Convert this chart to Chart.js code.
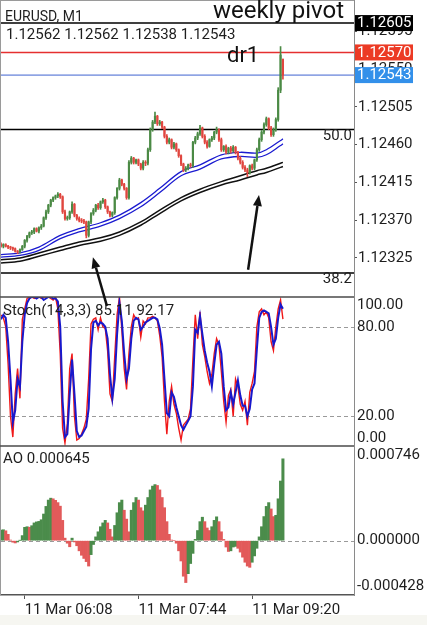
<!DOCTYPE html>
<html>
<head>
<meta charset="utf-8">
<title>EURUSD, M1</title>
<script src="https://cdn.jsdelivr.net/npm/chart.js@4.4.1/dist/chart.umd.min.js"></script>
<style>
html, body { margin: 0; padding: 0; background: #ffffff; }
#chart_td { width: 427px; height: 625px; }
</style>
</head>
<body>
<div id="chart_td"><canvas id="mychart" width="427" height="625"></canvas></div>
<script>
//. EURUSD M1 screenshot, read back as 2-minute slots (05:48 .. 09:46), plus empty slots up to the right axis
var SLOT_COUNT = 150;
var FIRST_MINUTE = 5 * 60 + 48;
var SLOT_MINUTES = 2;
var timeTickSlots = [ 10, 58, 106 ];

//. candles
var opens = [
  1.12341,1.12339,1.12341,1.12339,1.12338,1.12337,1.12336,1.12333,1.12332,1.12335,
  1.12339,1.12346,1.12351,1.12355,1.12356,1.12360,1.12357,1.12361,1.12363,1.12373,
  1.12380,1.12388,1.12394,1.12397,1.12399,1.12401,1.12398,1.12380,1.12372,1.12373,
  1.12380,1.12389,1.12376,1.12372,1.12370,1.12369,1.12368,1.12352,1.12368,1.12378,
  1.12382,1.12388,1.12385,1.12392,1.12394,1.12386,1.12380,1.12376,1.12379,1.12397,
  1.12408,1.12418,1.12413,1.12408,1.12397,1.12439,1.12444,1.12439,1.12442,1.12437,
  1.12432,1.12439,1.12438,1.12454,1.12478,1.12487,1.12494,1.12485,1.12487,1.12481,
  1.12470,1.12463,1.12466,1.12457,1.12461,1.12454,1.12447,1.12437,1.12430,1.12432,
  1.12436,1.12435,1.12463,1.12468,1.12473,1.12480,1.12470,1.12463,1.12458,1.12466,
  1.12468,1.12475,1.12478,1.12466,1.12454,1.12458,1.12451,1.12456,1.12453,1.12457,
  1.12451,1.12444,1.12439,1.12433,1.12430,1.12427,1.12435,1.12432,1.12442,1.12454,
  1.12466,1.12475,1.12484,1.12491,1.12480,1.12472,1.12478,1.12490,1.12525,1.12562
];
var highs = [
  1.12343,1.12342,1.12342,1.12340,1.12339,1.12338,1.12337,1.12334,1.12336,1.12340,
  1.12347,1.12352,1.12356,1.12358,1.12361,1.12361,1.12362,1.12365,1.12374,1.12382,
  1.12389,1.12395,1.12398,1.12400,1.12403,1.12402,1.12399,1.12382,1.12375,1.12381,
  1.12392,1.12390,1.12377,1.12374,1.12372,1.12371,1.12369,1.12369,1.12379,1.12384,
  1.12389,1.12390,1.12393,1.12396,1.12395,1.12387,1.12381,1.12380,1.12398,1.12409,
  1.12420,1.12419,1.12414,1.12409,1.12441,1.12446,1.12445,1.12443,1.12443,1.12438,
  1.12441,1.12441,1.12456,1.12480,1.12489,1.12499,1.12495,1.12489,1.12488,1.12482,
  1.12472,1.12468,1.12467,1.12463,1.12462,1.12455,1.12448,1.12438,1.12434,1.12437,
  1.12438,1.12464,1.12470,1.12475,1.12483,1.12481,1.12472,1.12465,1.12467,1.12470,
  1.12476,1.12481,1.12479,1.12468,1.12459,1.12460,1.12457,1.12458,1.12459,1.12458,
  1.12452,1.12446,1.12441,1.12435,1.12432,1.12436,1.12437,1.12443,1.12456,1.12468,
  1.12477,1.12486,1.12493,1.12492,1.12482,1.12480,1.12492,1.12528,1.12577,1.12562
];
var lows = [
  1.12338,1.12337,1.12338,1.12336,1.12335,1.12334,1.12332,1.12330,1.12331,1.12334,
  1.12337,1.12344,1.12349,1.12353,1.12354,1.12356,1.12355,1.12359,1.12362,1.12371,
  1.12378,1.12386,1.12392,1.12395,1.12397,1.12396,1.12378,1.12370,1.12370,1.12371,
  1.12378,1.12374,1.12370,1.12368,1.12367,1.12366,1.12349,1.12350,1.12366,1.12376,
  1.12380,1.12383,1.12383,1.12390,1.12384,1.12378,1.12374,1.12374,1.12377,1.12395,
  1.12406,1.12411,1.12406,1.12395,1.12395,1.12437,1.12437,1.12437,1.12435,1.12430,
  1.12430,1.12435,1.12436,1.12452,1.12476,1.12485,1.12483,1.12483,1.12479,1.12468,
  1.12461,1.12461,1.12455,1.12455,1.12452,1.12445,1.12435,1.12428,1.12428,1.12430,
  1.12433,1.12433,1.12461,1.12466,1.12471,1.12468,1.12461,1.12456,1.12457,1.12464,
  1.12466,1.12473,1.12464,1.12452,1.12452,1.12449,1.12449,1.12450,1.12451,1.12449,
  1.12442,1.12437,1.12431,1.12428,1.12422,1.12425,1.12430,1.12430,1.12440,1.12452,
  1.12464,1.12473,1.12482,1.12478,1.12470,1.12470,1.12476,1.12488,1.12522,1.12538
];
var closes = [
  1.12339,1.12341,1.12339,1.12338,1.12337,1.12336,1.12333,1.12332,1.12335,1.12339,
  1.12346,1.12351,1.12355,1.12356,1.12360,1.12357,1.12361,1.12363,1.12373,1.12380,
  1.12388,1.12394,1.12397,1.12399,1.12401,1.12398,1.12380,1.12372,1.12373,1.12380,
  1.12389,1.12376,1.12372,1.12370,1.12369,1.12368,1.12352,1.12368,1.12378,1.12382,
  1.12388,1.12385,1.12392,1.12394,1.12386,1.12380,1.12376,1.12379,1.12397,1.12408,
  1.12418,1.12413,1.12408,1.12397,1.12439,1.12444,1.12439,1.12442,1.12437,1.12432,
  1.12439,1.12438,1.12454,1.12478,1.12487,1.12494,1.12485,1.12487,1.12481,1.12470,
  1.12463,1.12466,1.12457,1.12461,1.12454,1.12447,1.12437,1.12430,1.12432,1.12436,
  1.12435,1.12463,1.12468,1.12473,1.12480,1.12470,1.12463,1.12458,1.12466,1.12468,
  1.12475,1.12478,1.12466,1.12454,1.12458,1.12451,1.12456,1.12453,1.12457,1.12451,
  1.12444,1.12439,1.12433,1.12430,1.12427,1.12435,1.12432,1.12442,1.12454,1.12466,
  1.12475,1.12484,1.12491,1.12480,1.12472,1.12478,1.12490,1.12525,1.12567,1.12543
];

//. moving averages, read at a few slots only
var maSlots      = [ 0, 8, 16, 25, 33, 42, 50, 59, 67, 76, 84, 93, 101, 108, 112, 118, 119 ];
var maBlueUpper  = [ 1.12329,1.12331,1.12338,1.12352,1.12360,1.12367,1.12376,1.12391,1.12408,1.12428,1.12436,1.12448,1.12451,1.12450,1.12454,1.12465,1.12467 ];
var maBlueLower  = [ 1.12326,1.12328,1.12334,1.12348,1.12356,1.12363,1.12372,1.12386,1.12403,1.12423,1.12431,1.12443,1.12446,1.12445,1.12448,1.12459,1.12461 ];
var maBlackUpper = [ 1.12323,1.12325,1.12331,1.12338,1.12344,1.12349,1.12356,1.12368,1.12382,1.12397,1.12407,1.12416,1.12423,1.12429,1.12432,1.12438,1.12439 ];
var maBlackLower = [ 1.12319,1.12321,1.12327,1.12334,1.12340,1.12345,1.12352,1.12364,1.12378,1.12393,1.12403,1.12412,1.12418,1.12424,1.12427,1.12433,1.12434 ];

//. Stoch(14,3,3)
var stochMain = [
  88,86,80,55,20,6,35,52,32,85,
  92,99,100,100,99,100,100,99,100,100,
  100,99,98,100,92,62,12,2,15,52,
  62,20,4,5,8,12,18,45,82,85,
  86,78,86,80,79,64,35,30,60,88,
  100,78,52,38,62,80,88,85,86,73,
  84,82,86,86,87,86,84,74,60,30,
  8,30,40,28,22,12,4,14,16,18,
  25,58,88,72,90,68,60,50,42,48,
  62,72,68,50,30,16,34,38,20,45,
  40,28,24,30,14,36,42,50,80,90,
  92,88,90,86,70,64,80,92,98,85.11
];
var stochSignal = [
  85,88,86,70,45,16,24,45,40,70,
  88,96,99,100,100,99,100,100,98,99,
  100,100,99,99,97,80,30,6,8,35,
  58,35,10,6,7,10,13,25,65,83,
  84,81,83,82,80,72,48,32,45,75,
  96,84,62,45,52,72,84,86,85,78,
  80,83,84,85,86,86,85,79,68,45,
  22,20,36,33,26,20,14,11,14,17,
  20,40,78,76,87,75,64,56,50,40,
  55,68,70,62,40,24,26,36,28,36,
  44,34,27,27,20,25,38,42,65,86,
  90,91,90,89,80,68,72,86,95,92.17
];
var stochLevels = [ 80, 20 ];
var stochTicks = [ 100, 80, 20, 0 ];

//. Awesome Oscillator
var ao = [
  0.000084,0.000086,0.000078,0.000050,0.000005,-0.000012,-0.000018,-0.000010,0.000002,0.000040,
  0.000105,0.000110,0.000106,0.000118,0.000140,0.000148,0.000152,0.000165,0.000210,0.000270,
  0.000320,0.000335,0.000330,0.000318,0.000300,0.000272,0.000160,0.000020,-0.000020,-0.000048,
  0.000020,-0.000010,-0.000040,-0.000080,-0.000115,-0.000140,-0.000165,-0.000200,-0.000110,-0.000030,
  0.000030,0.000070,0.000110,0.000140,0.000160,0.000140,0.000090,0.000030,0.000120,0.000220,
  0.000300,0.000320,0.000240,0.000170,0.000070,0.000240,0.000300,0.000340,0.000320,0.000260,
  0.000235,0.000280,0.000340,0.000400,0.000430,0.000442,0.000435,0.000400,0.000340,0.000260,
  0.000150,0.000050,0.000005,0.000000,-0.000020,-0.000080,-0.000160,-0.000280,-0.000330,-0.000260,
  -0.000180,-0.000100,0.000010,0.000080,0.000150,0.000185,0.000150,0.000100,0.000080,0.000110,
  0.000160,0.000188,0.000150,0.000070,0.000010,-0.000050,-0.000085,-0.000080,-0.000050,-0.000045,
  -0.000060,-0.000090,-0.000130,-0.000170,-0.000200,-0.000210,-0.000170,-0.000120,-0.000060,0.000030,
  0.000110,0.000190,0.000270,0.000300,0.000250,0.000190,0.000200,0.000330,0.000470,0.000645
];
var aoTicks = [ 0.000746, 0.000000, -0.000428 ];

//. price axis, levels and tags
var priceMin = 1.122785;
var priceMax = 1.126325;
var priceTicks = [ 1.12325, 1.12370, 1.12415, 1.12460, 1.12505, 1.12550, 1.12595 ];
var levelValues = [ 1.12605, 1.12570, 1.12543, 1.12478, 1.12307 ];
var tagValues = [ 1.12605, 1.12570, 1.12543 ];

//. hand drawn arrows (slot, price)
var arrowTails = [ [ 44.7, 1.12268 ], [ 104.3, 1.12311 ] ];
var arrowTips  = [ [ 38.8, 1.12326 ], [ 108.9, 1.12400 ] ];

//. styles
var BULL = '#4b8a45';
var BEAR = '#e0463f';
var AO_UP = '#4b8c4b';
var AO_DOWN = '#e25a5a';
var levelColors = [ '#000000', '#e53030', '#3f63d0', '#000000', '#000000' ];
var levelWidths = [ 1.5, 1.5, 1, 1.5, 1.5 ];
var tagColors = [ '#000000', '#ec3a24', '#3390ea' ];
var FONT = 'Roboto';

Chart.defaults.font.family = FONT;

function pad2( n ){
  return ( n < 10 ? '0' : '' ) + n;
}

var labels = [];
for( var i = 0; i < SLOT_COUNT; i ++ ){
  var m = FIRST_MINUTE + i * SLOT_MINUTES;
  labels.push( '11 Mar ' + pad2( Math.floor( m / 60 ) ) + ':' + pad2( m % 60 ) );
}

var wickData = [], bodyData = [], candleColors = [];
for( var i = 0; i < closes.length; i ++ ){
  wickData.push( [ lows[i], highs[i] ] );
  bodyData.push( [ opens[i], closes[i] ] );
  candleColors.push( closes[i] >= opens[i] ? BULL : BEAR );
}

var aoColors = [];
for( var i = 0; i < ao.length; i ++ ){
  aoColors.push( ( i == 0 || ao[i] >= ao[i-1] ) ? AO_UP : AO_DOWN );
}

function sparse( values ){
  var r = [];
  for( var i = 0; i < closes.length; i ++ ){ r.push( null ); }
  maSlots.forEach( function( s, k ){ r[s] = values[k]; } );
  return r;
}

function maLine( values, color, width ){
  return {
    type: 'line', yAxisID: 'yP', data: sparse( values ),
    borderColor: color, borderWidth: width, pointRadius: 0,
    spanGaps: true, tension: 0.35, order: 5
  };
}

function noPad( s ){
  s.paddingTop = 0; s.paddingBottom = 0; s.paddingLeft = 0; s.paddingRight = 0;
}
function sideFit( s ){
  s.width = 73;
  noPad( s );
}

function drawArrow( c, x1, y1, x2, y2 ){
  var ang = Math.atan2( y2 - y1, x2 - x1 );
  var len = 11, half = 4.5;
  var bx = x2 - len * Math.cos( ang ), by = y2 - len * Math.sin( ang );
  c.beginPath();
  c.moveTo( x1, y1 );
  c.lineTo( bx, by );
  c.stroke();
  c.beginPath();
  c.moveTo( x2, y2 );
  c.lineTo( bx + half * Math.sin( ang ), by - half * Math.cos( ang ) );
  c.lineTo( bx - half * Math.sin( ang ), by + half * Math.cos( ang ) );
  c.closePath();
  c.fill();
}

var mtPlugin = {
  id: 'mt4look',
  beforeDraw: function( chart ){
    var c = chart.ctx;
    c.save();
    c.fillStyle = '#ffffff';
    c.fillRect( 0, 0, chart.width, chart.height );
    c.fillStyle = '#f6f6f1';
    c.fillRect( 0, chart.height - 10, chart.width, 10 );
    c.restore();
  },
  beforeDatasetsDraw: function( chart ){
    var c = chart.ctx, a = chart.chartArea, s = chart.scales;
    c.save();
    //. price levels
    levelValues.forEach( function( v, k ){
      var y = s.yP.getPixelForValue( v );
      c.strokeStyle = levelColors[k];
      c.lineWidth = levelWidths[k];
      c.beginPath(); c.moveTo( a.left, y ); c.lineTo( a.right, y ); c.stroke();
    });
    //. dashed levels
    c.strokeStyle = '#9a9a9a';
    c.lineWidth = 1;
    c.setLineDash( [ 4, 3 ] );
    stochLevels.forEach( function( v ){
      var y = Math.round( s.yS.getPixelForValue( v ) ) + 0.5;
      c.beginPath(); c.moveTo( a.left, y ); c.lineTo( a.right, y ); c.stroke();
    });
    var y0 = Math.round( s.yA.getPixelForValue( 0 ) ) + 0.5;
    c.beginPath(); c.moveTo( a.left, y0 ); c.lineTo( a.right, y0 ); c.stroke();
    c.restore();
  },
  //. keep every dataset inside its own pane
  beforeDatasetDraw: function( chart, args ){
    var ys = chart.scales[ args.meta.yAxisID ];
    var a = chart.chartArea;
    chart.ctx.save();
    chart.ctx.beginPath();
    chart.ctx.rect( a.left, ys.top, a.right - a.left, ys.bottom - ys.top );
    chart.ctx.clip();
  },
  afterDatasetDraw: function( chart ){
    chart.ctx.restore();
  },
  afterDraw: function( chart ){
    var c = chart.ctx, a = chart.chartArea, s = chart.scales;
    var last = closes.length - 1;
    c.save();

    //. frame and pane separators
    c.strokeStyle = '#9a9a9a';
    c.lineWidth = 1;
    c.beginPath(); c.moveTo( 0.5, a.top ); c.lineTo( 0.5, a.bottom ); c.stroke();
    c.beginPath(); c.moveTo( 0, 0.5 ); c.lineTo( a.right, 0.5 ); c.stroke();
    c.strokeStyle = '#4a4a4a';
    c.lineWidth = 1.5;
    [ s.yS.top, s.yA.top ].forEach( function( y ){
      c.beginPath(); c.moveTo( 0, y ); c.lineTo( a.right, y ); c.stroke();
    });

    //. price tags on the axis
    c.font = '15px ' + FONT;
    c.textBaseline = 'middle';
    c.textAlign = 'left';
    tagValues.forEach( function( v, k ){
      var y = s.yP.getPixelForValue( v );
      c.fillStyle = tagColors[k];
      c.fillRect( s.yP.left + 1, y - 8, 58, 16 );
      c.fillStyle = '#ffffff';
      c.fillText( v.toFixed( 5 ), s.yP.left + 3, y + 0.5 );
    });

    //. stoch / ao axis labels, kept inside their panes
    c.fillStyle = '#1e1e1e';
    stochTicks.forEach( function( v ){
      var y = Math.max( s.yS.top + 8, Math.min( s.yS.bottom - 8, s.yS.getPixelForValue( v ) ) );
      c.fillText( v.toFixed( 2 ), s.yS.left + 3, y );
    });
    aoTicks.forEach( function( v ){
      var y = Math.max( s.yA.top + 9, Math.min( s.yA.bottom - 9, s.yA.getPixelForValue( v ) ) );
      c.fillText( v.toFixed( 6 ), s.yA.left + 3, y );
    });

    //. texts
    c.textBaseline = 'alphabetic';
    c.font = '14px ' + FONT;
    c.fillText( 'EURUSD, M1', 5, 21 );
    c.font = '15px ' + FONT;
    c.fillText( [ opens[last], highs[last], lows[last], closes[last] ].map( function( v ){ return v.toFixed( 5 ); } ).join( ' ' ), 6, 39 );
    c.fillText( 'Stoch(14,3,3) ' + stochMain[last].toFixed( 2 ) + ' ' + stochSignal[last].toFixed( 2 ), 3, s.yS.top + 18 );
    c.fillText( 'AO ' + ao[last].toFixed( 6 ), 3, s.yA.top + 17 );

    c.textAlign = 'right';
    var y50 = s.yP.getPixelForValue( levelValues[3] );
    var y38 = s.yP.getPixelForValue( levelValues[4] );
    c.fillText( '50.0', a.right - 2, y50 + 10 );
    c.fillText( '38.2', a.right - 2, y38 + 10 );

    c.font = '24px ' + FONT;
    c.fillStyle = '#111111';
    c.fillText( 'weekly pivot', a.right - 10, s.yP.getPixelForValue( levelValues[0] ) - 5 );
    c.textAlign = 'left';
    c.font = '22px ' + FONT;
    c.fillText( 'dr1', 227, s.yP.getPixelForValue( levelValues[1] ) + 10 );

    //. arrows
    c.strokeStyle = '#111111';
    c.fillStyle = '#111111';
    c.lineWidth = 2.5;
    for( var k = 0; k < arrowTails.length; k ++ ){
      drawArrow( c,
        s.x.getPixelForValue( arrowTails[k][0] ), s.yP.getPixelForValue( arrowTails[k][1] ),
        s.x.getPixelForValue( arrowTips[k][0] ), s.yP.getPixelForValue( arrowTips[k][1] ) );
    }
    c.restore();
  }
};

var data = {
  labels: labels,
  datasets: [
    {
      label: 'body', type: 'bar', yAxisID: 'yP', data: bodyData,
      backgroundColor: candleColors, barThickness: 1.5, minBarLength: 1,
      grouped: false, order: 1
    },
    {
      label: 'wick', type: 'bar', yAxisID: 'yP', data: wickData,
      backgroundColor: candleColors, barThickness: 1,
      grouped: false, order: 2
    },
    maLine( maBlueUpper, '#1a1ad0', 1.3 ),
    maLine( maBlueLower, '#1a1ad0', 1.3 ),
    maLine( maBlackUpper, '#111111', 1.5 ),
    maLine( maBlackLower, '#111111', 1.5 ),
    {
      label: 'signal', type: 'line', yAxisID: 'yS', data: stochSignal,
      borderColor: '#1818cc', borderWidth: 2, pointRadius: 0, tension: 0, order: 1
    },
    {
      label: 'main', type: 'line', yAxisID: 'yS', data: stochMain,
      borderColor: '#f01818', borderWidth: 1.4, pointRadius: 0, tension: 0, order: 2
    },
    {
      label: 'AO', type: 'bar', yAxisID: 'yA', data: ao,
      backgroundColor: aoColors, barPercentage: 1, categoryPercentage: 1,
      grouped: false, order: 3
    }
  ]
};

var options = {
  responsive: false,
  devicePixelRatio: 1,
  animation: false,
  events: [],
  layout: { padding: { left: 1, right: 0, top: 0, bottom: 8 } },
  plugins: { legend: { display: false }, tooltip: { enabled: false } },
  scales: {
    x: {
      type: 'category', offset: false,
      grid: { display: true, offset: false, drawOnChartArea: false, drawTicks: true, tickLength: 4, color: '#555555' },
      border: { display: true, color: '#555555', width: 1.5 },
      ticks: {
        autoSkip: false, maxRotation: 0, minRotation: 0, align: 'start', padding: 2,
        color: '#1e1e1e', font: { size: 15 },
        callback: function( v, i ){ return timeTickSlots.indexOf( i ) >= 0 ? this.getLabelForValue( v ) : null; }
      },
      afterFit: function( s ){ s.height = 22; noPad( s ); }
    },
    yP: {
      type: 'linear', position: 'right', stack: 'panes', stackWeight: 297,
      min: priceMin, max: priceMax,
      afterBuildTicks: function( s ){ s.ticks = priceTicks.map( function( v ){ return { value: v }; } ); },
      ticks: { padding: 1, color: '#1e1e1e', font: { size: 15 }, callback: function( v ){ return v.toFixed( 5 ); } },
      grid: { drawOnChartArea: false, tickLength: 3, color: '#555555' },
      border: { color: '#8a8a8a' },
      afterFit: sideFit
    },
    yS: {
      type: 'linear', position: 'right', stack: 'panes', stackWeight: 149,
      min: 0, max: 100,
      ticks: { display: false },
      grid: { drawOnChartArea: false, drawTicks: false },
      border: { color: '#8a8a8a' },
      afterFit: sideFit
    },
    yA: {
      type: 'linear', position: 'right', stack: 'panes', stackWeight: 149,
      min: aoTicks[2], max: aoTicks[0],
      ticks: { display: false },
      grid: { drawOnChartArea: false, drawTicks: false },
      border: { color: '#8a8a8a' },
      afterFit: sideFit
    }
  }
};

var ctx = document.getElementById( 'mychart' );
var chart = new Chart( ctx, {
  type: 'bar',
  data: data,
  options: options,
  plugins: [ mtPlugin ]
});
</script>
</body>
</html>
